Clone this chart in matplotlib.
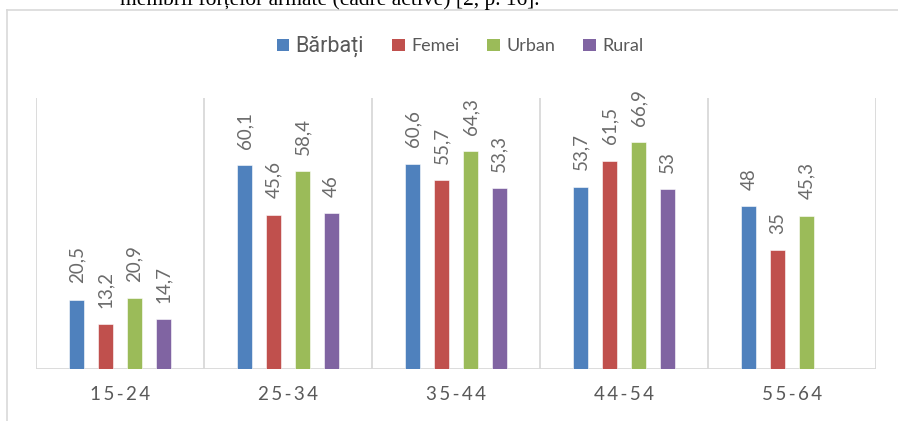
import matplotlib
matplotlib.use("Agg")
import matplotlib.pyplot as plt
import numpy as np
from matplotlib.patches import Patch
from matplotlib.lines import Line2D

categories = ["15-24", "25-34", "35-44", "44-54", "55-64"]
series_names = ["Bărbați", "Femei", "Urban", "Rural"]
barbati = [20.5, 60.1, 60.6, 53.7, 48]
femei = [13.2, 45.6, 55.7, 61.5, 35]
urban = [20.9, 58.4, 64.3, 66.9, 45.3]
rural = [14.7, 46, 53.3, 53, None]
colors = ["#4F81BD", "#C0504D", "#9BBB59", "#8064A2"]

W, H = 898, 421
fig = plt.figure(figsize=(W / 100, H / 100), dpi=100)

# chart border (top & left visible)
fig.add_artist(Line2D([7 / W, 1], [1 - 9.5 / H, 1 - 9.5 / H], color="#d9d9d9", lw=1.2))
fig.add_artist(Line2D([7 / W, 7 / W], [0, 1 - 9.5 / H], color="#d9d9d9", lw=1.2))

# document text above chart (clipped by the page edge as in the reference)
fig.text(120 / W, 1 - 5 / H, "membrii forțelor armate (cadre active) [2, p. 16].",
         family="Liberation Serif", fontsize=15.5, color="black", va="baseline", ha="left")

ax = fig.add_axes([36 / W, 52 / H, 840 / W, 271 / H])
x = np.arange(len(categories))
offsets = (np.arange(4) - 1.5) * 0.1715
width = 0.091

all_series = [barbati, femei, urban, rural]
for i, (vals, col) in enumerate(zip(all_series, colors)):
    xs = [xi + offsets[i] for xi, v in zip(x, vals) if v is not None]
    vs = [v for v in vals if v is not None]
    ax.bar(xs, vs, width=width, color=col, edgecolor="white", linewidth=0.4, zorder=3)
    for xb, v in zip(xs, vs):
        ax.annotate(f"{v:g}".replace(".", ","), (xb, v), xytext=(0, 12), textcoords="offset points",
                    rotation=90, ha="center", va="bottom", family="Lato", fontsize=13.5,
                    color="#6b6b6b")

ax.set_xlim(-0.5, len(categories) - 0.5)
ax.set_ylim(0, 80)
for s in ax.spines.values():
    s.set_visible(False)
for b in np.arange(-0.5, len(categories), 1.0):
    ax.axvline(b, color="#d9d9d9", lw=1.3, zorder=1)
ax.axhline(0, color="#d9d9d9", lw=1.3, zorder=2)
ax.set_yticks([])
ax.set_xticks(x, ["\u2009".join(c) for c in categories])
ax.tick_params(axis="x", length=0, pad=12)
for t in ax.get_xticklabels():
    t.set_family("Lato")
    t.set_fontsize(13.5)
    t.set_color("#595959")

handles = [Patch(facecolor=c, edgecolor="none") for c in colors]
leg = fig.legend(handles, series_names, loc="center", bbox_to_anchor=(460 / W, 1 - 46 / H),
                 ncol=4, frameon=False, handlelength=0.7, handleheight=0.7,
                 handletextpad=0.35, columnspacing=1.55, prop={"family": "Lato", "size": 13})
for i, t in enumerate(leg.get_texts()):
    t.set_color("#595959")
    if i == 0:
        t.set_family("Roboto")
        t.set_fontsize(15.5)

fig.savefig("out.png", dpi=100)
